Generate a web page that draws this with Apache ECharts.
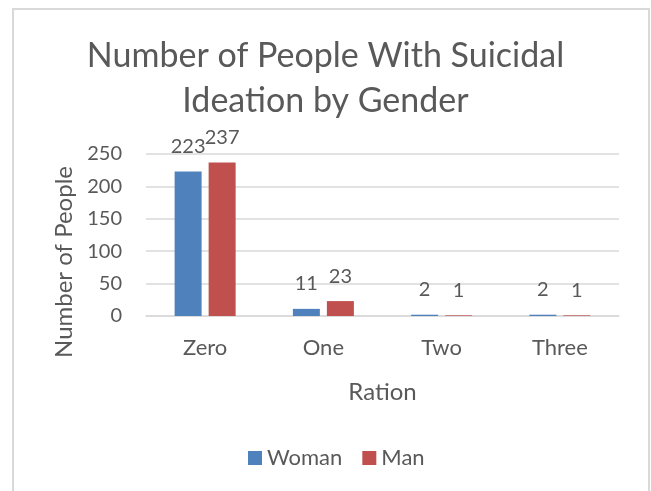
<!DOCTYPE html>
<html>
<head>
<meta charset="utf-8">
<script src="https://cdn.jsdelivr.net/npm/echarts@6/dist/echarts.min.js"></script>
<style>
  html, body { margin: 0; padding: 0; background: #ffffff; }
  #chart { width: 651px; height: 491px; }
</style>
</head>
<body>
<div id="chart"></div>
<script>
// Categories and counts per gender
const categories = ['Zero', 'One', 'Two', 'Three'];
const womanValues = [223, 11, 2, 2];
const manValues = [237, 23, 1, 1];
const yTicks = [0, 50, 100, 150, 200, 250];

const FONT = 'Lato';
const TEXT = '#595959';

const chart = echarts.init(document.getElementById('chart'), null, { renderer: 'canvas' });

const labelStyle = {
  show: true,
  position: 'top',
  distance: 15,
  color: TEXT,
  fontFamily: FONT,
  fontSize: 20
};

chart.setOption({
  animation: false,
  backgroundColor: '#ffffff',
  title: {
    text: 'Number of People With Suicidal\nIdeation by Gender',
    left: 'center',
    top: 29,
    textStyle: {
      color: TEXT,
      fontFamily: FONT,
      fontWeight: 'normal',
      fontSize: 34,
      lineHeight: 45
    }
  },
  legend: {
    bottom: 17,
    left: 243,
    itemWidth: 14,
    itemHeight: 14,
    itemGap: 20,
    icon: 'rect',
    textStyle: { color: TEXT, fontFamily: FONT, fontSize: 22 },
    data: ['Woman', 'Man']
  },
  graphic: [{
    type: 'rect',
    shape: { x: 13, y: 9, width: 636, height: 500 },
    style: { fill: 'none', stroke: '#d9d9d9', lineWidth: 2 },
    silent: true
  }],
  grid: { left: 146, right: 32, top: 154, bottom: 175 },
  xAxis: {
    type: 'category',
    data: categories,
    name: 'Ration',
    nameLocation: 'middle',
    nameGap: 64,
    nameTextStyle: { color: TEXT, fontFamily: FONT, fontSize: 24 },
    axisLine: { show: true, lineStyle: { color: '#d9d9d9', width: 1.5 } },
    axisTick: { show: false },
    axisLabel: { color: TEXT, fontFamily: FONT, fontSize: 22, margin: 21 }
  },
  yAxis: {
    type: 'value',
    min: yTicks[0],
    max: yTicks[yTicks.length - 1],
    interval: 50,
    name: 'Number of People',
    nameLocation: 'middle',
    nameGap: 70,
    nameTextStyle: { color: TEXT, fontFamily: FONT, fontSize: 24, padding: [0, 54, 0, 0] },
    axisLine: { show: false },
    axisTick: { show: false },
    axisLabel: { color: TEXT, fontFamily: FONT, fontSize: 20, margin: 24 },
    splitLine: { lineStyle: { color: '#d9d9d9', width: 1.5 } }
  },
  series: [
    {
      name: 'Woman',
      type: 'bar',
      data: womanValues,
      barWidth: 27,
      barGap: '26%',
      itemStyle: { color: '#4F81BD' },
      label: labelStyle
    },
    {
      name: 'Man',
      type: 'bar',
      data: manValues,
      barWidth: 27,
      itemStyle: { color: '#C0504D' },
      label: labelStyle
    }
  ]
});
</script>
</body>
</html>
